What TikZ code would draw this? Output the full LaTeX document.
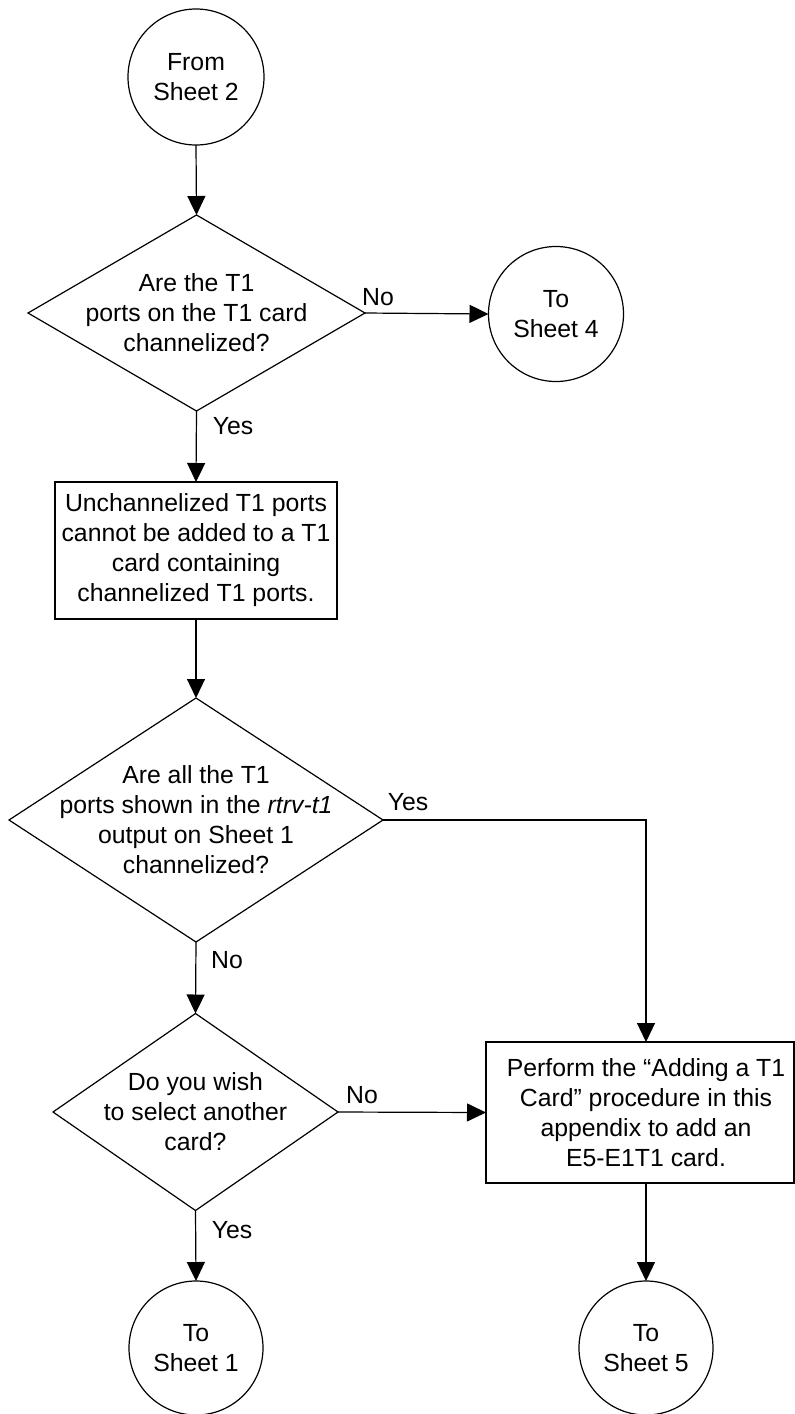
\documentclass[tikz,border=0pt]{standalone}
\usepackage{fontspec}
\setmainfont{Liberation Sans}
\usetikzlibrary{shapes.geometric,arrows.meta}
\begin{document}
\begin{tikzpicture}[x=1pt,y=-1pt,
  every node/.style={font=\fontsize{24.8}{30}\selectfont},
  shp/.style={draw,line width=1.2pt,inner sep=0pt,outer sep=0pt},
  conn/.style={draw,circle,line width=1.2pt,inner sep=0pt,outer sep=0pt,align=center},
  dia/.style={shp,diamond},
  box/.style={shp,rectangle,align=center},
  txt/.style={align=center,inner sep=0pt},
  lbl/.style={inner sep=0pt},
  arr/.style={line width=1.2pt,-{Triangle[length=19pt,width=18pt]}},
  ln/.style={line width=1.2pt}]
\useasboundingbox (0,0) rectangle (795,1414);
% connectors (circles)
\node[conn,minimum size=136pt] (c2) at (196,77) {From\\Sheet 2};
\node[conn,minimum size=135pt] (c4) at (556,314) {To\\Sheet 4};
\node[conn,minimum size=134pt] (c1) at (196,1348) {To\\Sheet 1};
\node[conn,minimum size=134pt] (c5) at (646,1348) {To\\Sheet 5};
% decisions
\node[dia,minimum width=337pt,minimum height=196pt] (d1) at (196.5,313) {};
\node[txt] at (d1) {Are the T1\\ports on the T1 card\\channelized?};
\node[dia,minimum width=374pt,minimum height=244pt] (d2) at (196,820) {};
\node[txt] at (d2) {Are all the T1\\ports shown in the \textit{rtrv-t1}\\output on Sheet 1\\channelized?};
\node[dia,minimum width=285pt,minimum height=197pt] (d3) at (195.5,1112) {};
\node[txt] at (d3) {Do you wish\\to select another\\card?};
% boxes
\node[box,minimum width=282pt,minimum height=137pt] (r1) at (196,550.5) {Unchannelized T1 ports\\cannot be added to a T1\\card containing\\channelized T1 ports.};
\node[shp,rectangle,minimum width=308pt,minimum height=141pt] (r2) at (640,1112.5) {};
\node[txt] at (646,1112.5) {Perform the “Adding a T1\\Card” procedure in this\\appendix to add an\\E5-E1T1 card.};
% edges
\draw[arr] (c2.south) -- (d1.north);
\draw[arr] (d1.east) -- (c4.west);
\draw[arr] (d1.south) -- (r1.north);
\draw[arr] (r1.south) -- (d2.north);
\coordinate (k) at (c5.north |- d2.east);
\draw[arr] (d2.east) -- (k) -- (k |- r2.north);
\draw[arr] (d2.south) -- (d3.north);
\draw[arr] (d3.east) -- (r2.west);
\draw[arr] (d3.south) -- (c1.north);
\draw[arr] (c5.north |- r2.south) -- (c5.north);
% labels
\node[lbl] at (378,297) {No};
\node[lbl] at (233,426) {Yes};
\node[lbl] at (408,802) {Yes};
\node[lbl] at (227,960) {No};
\node[lbl] at (362,1095) {No};
\node[lbl] at (232,1230) {Yes};
\end{tikzpicture}
\end{document}
